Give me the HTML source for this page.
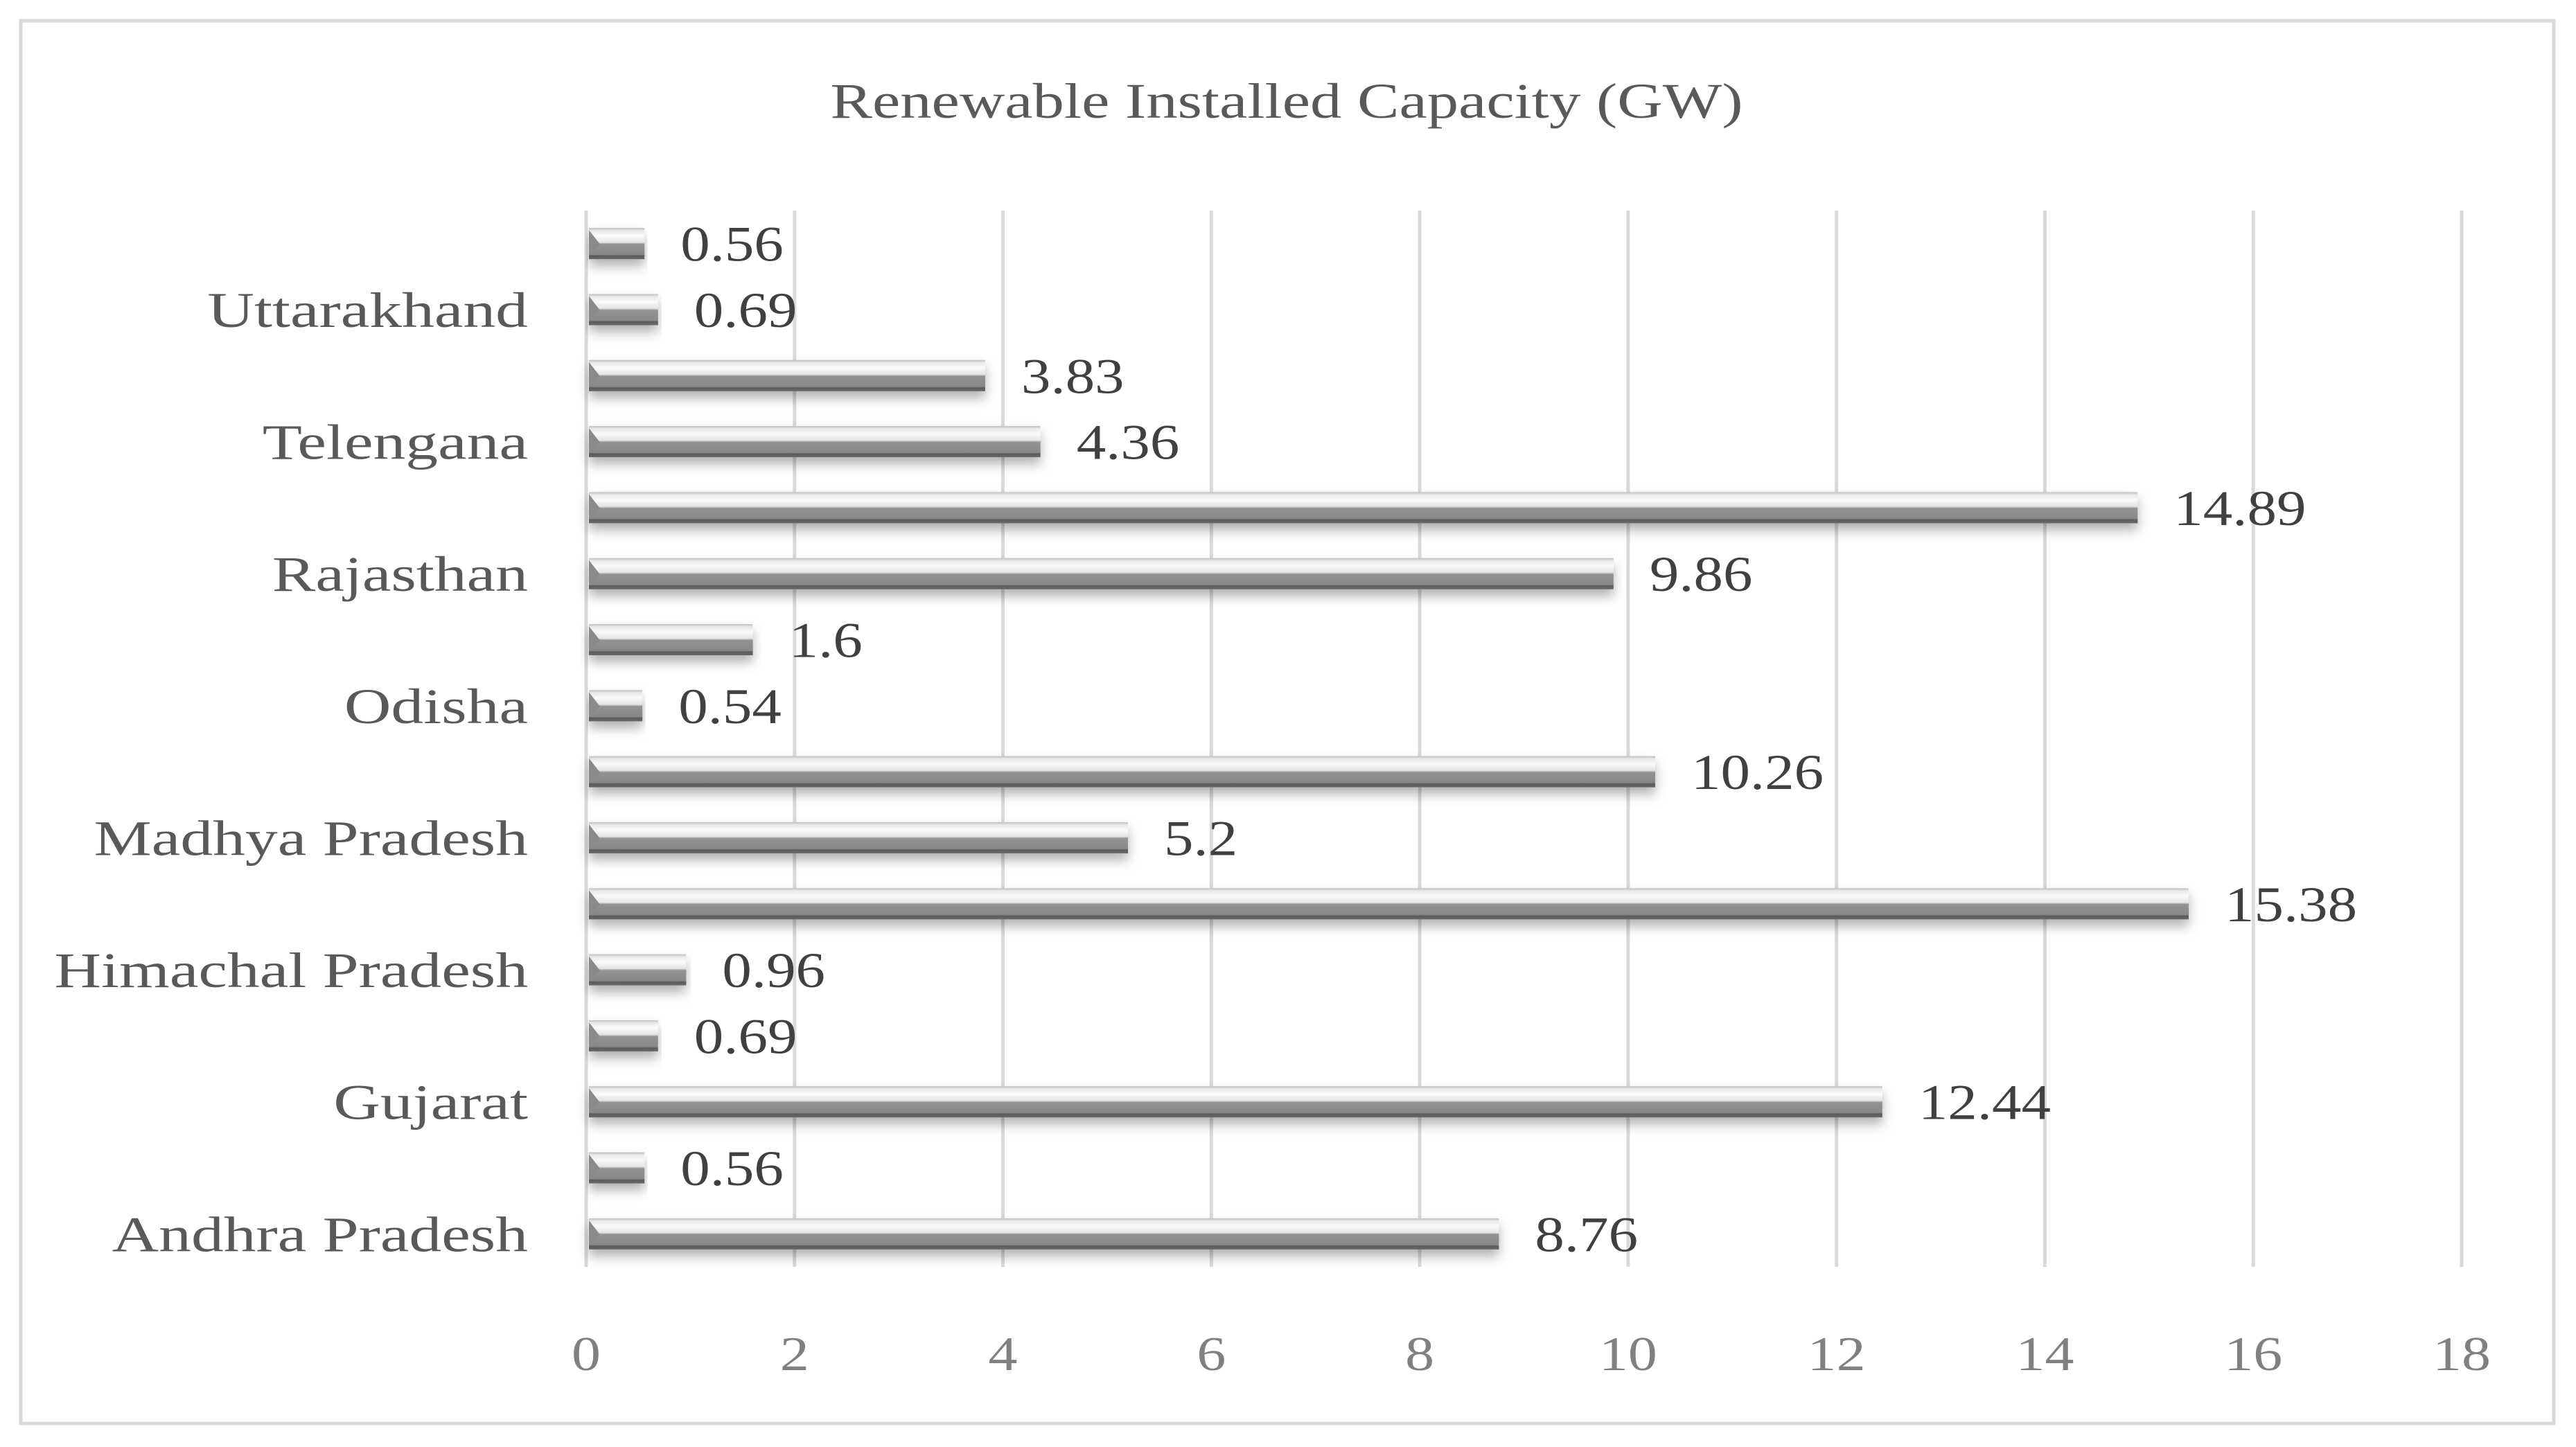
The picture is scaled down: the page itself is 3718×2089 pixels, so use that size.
<!DOCTYPE html>
<html><head><meta charset="utf-8"><style>
html,body{margin:0;padding:0;background:#fff;}
svg{display:block;}
text{font-family:"Liberation Serif",serif;}
</style></head><body>
<svg id="chart" width="3718" height="2089" viewBox="0 0 3718 2089" xmlns="http://www.w3.org/2000/svg">
<defs>
<linearGradient id="barGrad" x1="0" y1="0" x2="0" y2="1">
<stop offset="0" stop-color="#bdbdbd"/>
<stop offset="0.08" stop-color="#e8e8e8"/>
<stop offset="0.25" stop-color="#fafafa"/>
<stop offset="0.46" stop-color="#e4e4e4"/>
<stop offset="0.52" stop-color="#929292"/>
<stop offset="0.85" stop-color="#888"/>
<stop offset="0.89" stop-color="#5a5a5a"/>
<stop offset="1" stop-color="#6a6a6a"/>
</linearGradient>
<filter id="shadow" x="-5%" y="-40%" width="110%" height="220%">
<feDropShadow dx="0" dy="10" stdDeviation="8" flood-color="#000" flood-opacity="0.3"/>
</filter>
</defs>
<rect x="30" y="30" width="3656" height="2025" fill="#fff" stroke="#d9d9d9" stroke-width="5"/>
<text x="0" y="0" transform="translate(1857,170) scale(1.26,1)" font-size="72" fill="#595959" text-anchor="middle">Renewable Installed Capacity (GW)</text>
<g id="grid"></g><g id="bars"></g><g id="labels"></g>
</svg>
<script>
const categories = ["Andhra Pradesh","Gujarat","Himachal Pradesh","Madhya Pradesh","Odisha","Rajasthan","Telengana","Uttarakhand"];
// bars listed bottom to top, two per category
const barValues = [8.76,0.56,12.44,0.69,0.96,15.38,5.2,10.26,0.54,1.6,9.86,14.89,4.36,3.83,0.69,0.56];
const xTicks = [0,2,4,6,8,10,12,14,16,18];

const NS="http://www.w3.org/2000/svg";
const X0=846, X1=3553, XMAX=18, PT=304, PB=1829;
const x=v=>X0+(X1-X0)*v/XMAX;
const slot=(PB-PT)/barValues.length;
const yc=i=>PB-slot*(i+0.5);
function mk(tag,attrs,parent){const e=document.createElementNS(NS,tag);for(const k in attrs)e.setAttribute(k,attrs[k]);parent.appendChild(e);return e;}
const grid=document.getElementById('grid'),bars=document.getElementById('bars'),labels=document.getElementById('labels');
xTicks.forEach(t=>{
  const l=mk('line',{x1:x(t),x2:x(t),y1:PT,y2:PB,stroke:'#d9d9d9','stroke-width':5},grid);
  
  
  const tx=mk('text',{x:0,y:0,transform:`translate(${x(t)},1978) scale(1.2,1)`,'font-size':70,fill:'#808080','text-anchor':'middle'},labels);
  tx.textContent=t;
  
  
});
const bh=45;
barValues.forEach((v,i)=>{
  const cy=yc(i);
  const w=Math.max(0,x(v)-X0-4);
  const r=mk('rect',{x:X0+4,y:cy-bh/2,width:w,height:bh,fill:'url(#barGrad)',filter:'url(#shadow)'},bars);
  
  
  const bev=mk('polygon',{points:`${X0+4},${cy-bh/2+3} ${X0+20},${cy+1} ${X0+4},${cy+bh/2-6}`,fill:'#8a8a8a'},bars);
  
  
  const t=mk('text',{x:0,y:0,transform:`translate(${x(v)+52},${cy+25}) scale(1.18,1)`,'font-size':72,fill:'#404040'},labels);
  t.textContent=v;
  
  
});
categories.forEach((c,k)=>{
  const t=mk('text',{x:0,y:0,transform:`translate(762,${yc(2*k)+25}) scale(1.3,1)`,'font-size':72,fill:'#595959','text-anchor':'end'},labels);
  t.textContent=c;
  
  
});
</script>
</body></html>
